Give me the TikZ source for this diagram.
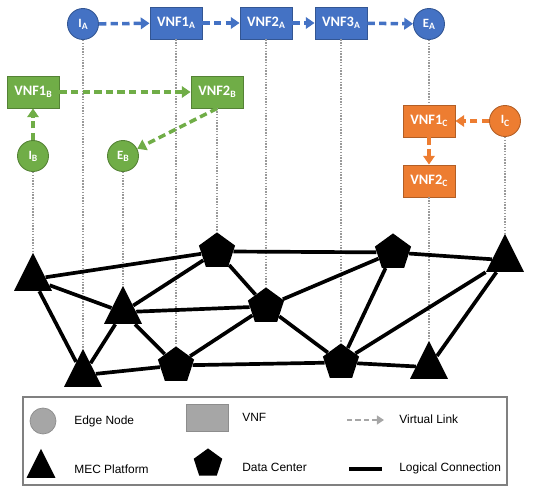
\documentclass[tikz,border=0pt]{standalone}
\usepackage{fontspec}
\setmainfont{Liberation Sans}
\newfontfamily\vnffont{Carlito}
\usetikzlibrary{shapes.geometric,arrows.meta}

\definecolor{chainA}{HTML}{4472C4}
\definecolor{chainB}{HTML}{70AD47}
\definecolor{chainC}{HTML}{ED7D31}
\definecolor{legfill}{HTML}{A6A6A6}
\definecolor{dotgray}{HTML}{9A9A9A}

\newcommand{\sidx}[1]{\raisebox{-0.35ex}{\fontsize{5.5}{5.5}\selectfont #1}}

\tikzset{
  vnf/.style={rectangle, fill=#1, draw=#1!75!black, line width=0.5pt,
    minimum width=1.04cm, minimum height=0.64cm, inner sep=0pt,
    text=white, font=\vnffont\bfseries\fontsize{8.2}{9}\selectfont},
  edgenode/.style={circle, fill=#1, draw=#1!75!black, line width=0.5pt,
    minimum size=0.62cm, inner sep=0pt,
    text=white, font=\vnffont\bfseries\fontsize{7.2}{8}\selectfont},
  vlink/.style={draw=#1, line width=2pt, dash pattern=on 4.2pt off 2.4pt,
    -{Triangle[length=5pt,width=6.5pt]}},
  mec/.style={isosceles triangle, isosceles triangle stretches,
    shape border rotate=90, fill=black, inner sep=0pt,
    minimum width=0.76cm, minimum height=0.76cm},
  dc/.style={regular polygon, regular polygon sides=5, fill=black,
    inner sep=0pt, minimum size=0.76cm},
  conn/.style={line width=2.1pt},
  drop/.style={draw=dotgray, line width=1.1pt, dash pattern=on 0.8pt off 0.8pt},
  legtext/.style={anchor=west, inner sep=0pt, font=\fontsize{6.8}{8}\selectfont}
}

\begin{document}
\begin{tikzpicture}[x=0.02cm, y=-0.02cm]
\useasboundingbox (0,0) rectangle (552,493);

% service chain A
\node[edgenode=chainA] (ia) at (83,24) {I\sidx{A}};
\node[vnf=chainA] (vnf1a) at (176,23) {VNF1\sidx{A}};
\node[vnf=chainA] (vnf2a) at (266,23) {VNF2\sidx{A}};
\node[vnf=chainA] (vnf3a) at (341,23) {VNF3\sidx{A}};
\node[edgenode=chainA] (ea) at (429,24) {E\sidx{A}};

% service chain B
\node[vnf=chainB] (vnf1b) at (33,92) {VNF1\sidx{B}};
\node[vnf=chainB] (vnf2b) at (217,92) {VNF2\sidx{B}};
\node[edgenode=chainB] (ib) at (33,156) {I\sidx{B}};
\node[edgenode=chainB] (eb) at (123,156) {E\sidx{B}};

% service chain C
\node[vnf=chainC] (vnf1c) at (429,121) {VNF1\sidx{C}};
\node[vnf=chainC] (vnf2c) at (429,181) {VNF2\sidx{C}};
\node[edgenode=chainC] (ic) at (505,121) {I\sidx{C}};

% physical network
\node[mec, anchor=apex] (t1) at (33,252) {};
\node[mec, anchor=apex] (t2) at (123,285) {};
\node[mec, anchor=apex] (t3) at (83,348) {};
\node[mec, anchor=apex] (t4) at (429,340) {};
\node[mec, anchor=apex] (t5) at (505,233) {};
\node[dc, anchor=corner 1] (p1) at (217,232) {};
\node[dc, anchor=corner 1] (p2) at (393,233) {};
\node[dc, anchor=corner 1] (p3) at (266,287) {};
\node[dc, anchor=corner 1] (p4) at (176,346) {};
\node[dc, anchor=corner 1] (p5) at (341,343) {};

% mapping onto the network
\draw[drop] (ia) -- (t3.apex);
\draw[drop] (vnf1a) -- (p4.corner 1);
\draw[drop] (vnf2a) -- (p3.corner 1);
\draw[drop] (vnf3a) -- (p5.corner 1);
\draw[drop] (ea) -- (vnf1c);
\draw[drop] (vnf2c) -- (t4.apex);
\draw[drop] (ic) -- (t5.apex);
\draw[drop] (ib) -- (t1.apex);
\draw[drop] (eb) -- (t2.apex);
\draw[drop] (vnf2b) -- (p1.corner 1);

% virtual links
\draw[vlink=chainA] (ia) -- (vnf1a);
\draw[vlink=chainA] (vnf1a) -- (vnf2a);
\draw[vlink=chainA] (vnf2a) -- (vnf3a);
\draw[vlink=chainA] (vnf3a) -- (ea);
\draw[vlink=chainB] (ib) -- (vnf1b);
\draw[vlink=chainB] (vnf1b) -- (vnf2b);
\draw[vlink=chainB] (vnf2b.south) -- (eb);
\draw[vlink=chainC] (ic) -- (vnf1c);
\draw[vlink=chainC] (vnf1c) -- (vnf2c);

% logical connections
\draw[conn] (t1) -- (p1);
\draw[conn] (t1) -- (t2);
\draw[conn] (t1) -- (t3);
\draw[conn] (p1) -- (p2);
\draw[conn] (p2) -- (t5);
\draw[conn] (p1) -- (t2);
\draw[conn] (p1) -- (p3);
\draw[conn] (t2) -- (p3);
\draw[conn] (t2) -- (t3);
\draw[conn] (t2) -- (p4);
\draw[conn] (p3) -- (p4);
\draw[conn] (p3) -- (p2);
\draw[conn] (p3) -- (p5);
\draw[conn] (p2) -- (p5);
\draw[conn] (p5) -- (t5);
\draw[conn] (t3) -- (p4);
\draw[conn] (p4) -- (p5);
\draw[conn] (p5) -- (t4);
\draw[conn] (t4) -- (t5);

% legend
\draw[draw=gray, line width=0.6pt] (23,397) rectangle (507,485);
\node[circle, fill=legfill, draw=legfill!85!black, line width=0.4pt,
  minimum size=0.52cm, inner sep=0pt] (legedge) at (43,421) {};
\node[legtext] (legedgetxt) at (74,421) {Edge Node};
\node[rectangle, fill=legfill, draw=legfill!85!black, line width=0.4pt,
  minimum width=0.84cm, minimum height=0.54cm, inner sep=0pt] (legvnf) at (207,418) {};
\node[legtext] (legvnftxt) at (242,417) {VNF};
\coordinate (vlA) at (347,420);
\coordinate (vlB) at (384,420);
\draw[draw=legfill, line width=1.4pt, dash pattern=on 3pt off 1.8pt,
  -{Triangle[length=4pt,width=5pt]}] (vlA) -- (vlB);
\node[legtext] (legvltxt) at (399,419) {Virtual Link};
\node[mec, anchor=apex, minimum width=0.58cm, minimum height=0.58cm] (legmec) at (41,448) {};
\node[legtext] (legmectxt) at (74,469) {MEC Platform};
\node[dc, anchor=corner 1, minimum size=0.6cm] (legdc) at (208,448) {};
\node[legtext] (legdctxt) at (242,467) {Data Center};
\coordinate (lcA) at (349,469);
\coordinate (lcB) at (382,469);
\draw[conn] (lcA) -- (lcB);
\node[legtext] (leglctxt) at (399,468) {Logical Connection};
\end{tikzpicture}
\end{document}
